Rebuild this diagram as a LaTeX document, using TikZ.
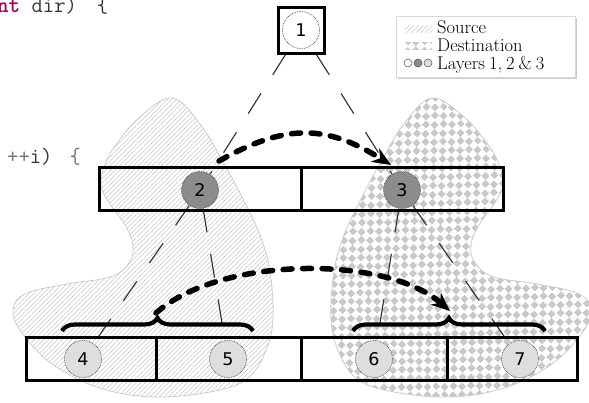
\documentclass[tikz,border=0pt]{standalone}
\usepackage{fontspec}
\newfontfamily\digitfont{DejaVu Sans}
\usetikzlibrary{arrows.meta,decorations.pathreplacing,patterns.meta,shadows}
\definecolor{kw}{RGB}{165,0,80}
\definecolor{blobline}{RGB}{205,205,205}
\definecolor{darkcirc}{RGB}{140,140,140}
\definecolor{lightcirc}{RGB}{222,222,222}
\pgfdeclarelayer{blobs}
\pgfdeclarelayer{links}
\pgfsetlayers{blobs,links,main}
\tikzdeclarepattern{
  name=diamondcheck,
  type=uncolored,
  bounding box={(0pt,0pt) and (12pt,12pt)},
  tile size={(12pt,12pt)},
  tile transformation={rotate=45},
  code={
    \fill (0pt,0pt) rectangle (6pt,6pt);
    \fill (6pt,6pt) rectangle (12pt,12pt);
  }
}
\begin{document}
\begin{tikzpicture}[x=1pt,y=-1pt,
  hatchfill/.style={pattern={Lines[angle=45,distance=3.3pt,line width=0.55pt]},pattern color=black!22},
  checkfill/.style={pattern=diamondcheck,pattern color=black!21},
  blob/.style={draw=blobline,line width=0.8pt},
  cell/.style={draw=black,line width=3pt,inner sep=0,minimum height=43pt},
  layer/.style={circle,draw=black!75,densely dotted,line width=0.7pt,minimum size=37pt,inner sep=0,font=\digitfont\fontsize{17.5}{18}\selectfont},
  lay1/.style={layer},
  lay2/.style={layer,fill=darkcirc},
  lay3/.style={layer,fill=lightcirc},
  thindash/.style={draw=black!80,line width=1.15pt,dash pattern=on 24pt off 22pt},
  thickdash/.style={draw=black,line width=5.5pt,line cap=round,dash pattern=on 9pt off 10.5pt,-{Stealth[length=19pt,width=16pt,line width=0pt]}},
  bracestyle/.style={draw=black,line width=4.2pt,decorate,decoration={brace,amplitude=13pt}},
  legtext/.style={anchor=base west,inner sep=0,font=\fontsize{18.5}{19}\selectfont},
  codetext/.style={anchor=base west,inner sep=0,font=\ttfamily\fontsize{22}{24}\selectfont,text=black!80}
]
\useasboundingbox (0,0) rectangle (589,402);

\begin{pgfonlayer}{blobs}
% source blob
\path[blob,hatchfill] plot[smooth cycle,tension=0.65] coordinates {
  (172,98) (200,124) (222,160) (242,197) (260,235) (270,272) (273,318) (266,350)
  (248,378) (215,391) (155,397) (100,388) (55,366) (25,337) (13,312) (25,294)
  (67,284) (110,277) (129,263) (133,245) (125,225) (110,204) (101,185) (106,162)
  (118,142) (140,117)};
% destination blob (mirror)
\begin{scope}[xshift=604pt,xscale=-1]
\path[blob,checkfill] plot[smooth cycle,tension=0.65] coordinates {
  (172,98) (200,124) (222,160) (242,197) (260,235) (270,272) (273,318) (266,350)
  (248,378) (215,391) (155,397) (100,388) (55,366) (25,337) (13,312) (25,294)
  (67,284) (110,277) (129,263) (133,245) (125,225) (110,204) (101,185) (106,162)
  (118,142) (140,117)};
\end{scope}
\end{pgfonlayer}

% boxes
\node[cell,minimum width=202pt] (t1) at (200,188.5) {};
\node[cell,minimum width=202pt] (t2) at (402,188.5) {};
\node[cell,minimum width=130pt] (b1) at (91,358.5) {};
\node[cell,minimum width=145pt] (b2) at (228.5,358.5) {};
\node[cell,minimum width=146pt] (b3) at (374,358.5) {};
\node[cell,minimum width=130pt] (b4) at (512,358.5) {};

% layer circles
\node[lay2] (c2) at (200,190) {2};
\node[lay2] (c3) at (402,190) {3};
\node[lay3] (c4) at (83,359) {4};
\node[lay3] (c5) at (228,359) {5};
\node[lay3] (c6) at (374,359) {6};
\node[lay3] (c7) at (520,359) {7};
\node[cell,fill=white,minimum width=46pt,minimum height=46pt] (box1) at (301,30) {};
\node[lay1] (c1) at (301,30) {1};

% thin dashed connectors
\begin{pgfonlayer}{links}
\draw[thindash] (box1) -- (c2);
\draw[thindash] (box1) -- (c3);
\draw[thindash] (c2) -- (c4);
\draw[thindash] (c2) -- (c5);
\draw[thindash] (c3) -- (c6);
\draw[thindash] (c3) -- (c7);
\end{pgfonlayer}

% braces
\coordinate (bl1) at (62,331);
\coordinate (bl2) at (253,331);
\coordinate (br1) at (353,331);
\coordinate (br2) at (545,331);
\draw[bracestyle] (bl1) -- (bl2);
\draw[bracestyle] (br1) -- (br2);

% thick dashed arrows
\coordinate (a1s) at (219,161);
\coordinate (a1e) at (391,165);
\coordinate (a2s) at (156,313);
\coordinate (a2e) at (450,311);
\draw[thickdash] (a1s) .. controls (285,124) and (325,124) .. (a1e);
\draw[thickdash] (a2s) .. controls (220,256) and (385,255) .. (a2e);

% legend
\node[draw=black!15,line width=0.6pt,fill=white,inner sep=0,minimum width=179pt,minimum height=61pt,
  drop shadow={shadow xshift=1.5pt,shadow yshift=-1.5pt,opacity=0.35,fill=black!60}] (legend) at (485.5,46.5) {};
\node[hatchfill,inner sep=0,minimum width=27pt,minimum height=7pt] (lgsrc) at (418.5,28.5) {};
\node[checkfill,inner sep=0,minimum width=27pt,minimum height=7pt] (lgdst) at (418.5,46) {};
\node[circle,draw=black!70,line width=0.5pt,fill=white,minimum size=8pt,inner sep=0] (lg1) at (408,63) {};
\node[circle,draw=black!70,line width=0.5pt,fill=darkcirc,minimum size=8pt,inner sep=0] (lg2) at (418,63) {};
\node[circle,draw=black!70,line width=0.5pt,fill=lightcirc,minimum size=8pt,inner sep=0] (lg3) at (428,63) {};
\node[legtext] (lgt1) at (437,33) {Source};
\node[legtext] (lgt2) at (437,51) {Destination};
\node[legtext] (lgt3) at (437,69) {Layers\hspace{4pt}1,\hspace{4pt}2\hspace{4pt}\&\hspace{4pt}3};

% code fragments
\node[codetext] (code1) at (-3,12) {\textcolor{kw}{\bfseries nt} dir)\hspace{20pt}\{};
\node[codetext] (code2) at (7,163) {\textcolor{black!55}{++}i)\hspace{17pt}\textcolor{black!55}{\{}};
\end{tikzpicture}
\end{document}
